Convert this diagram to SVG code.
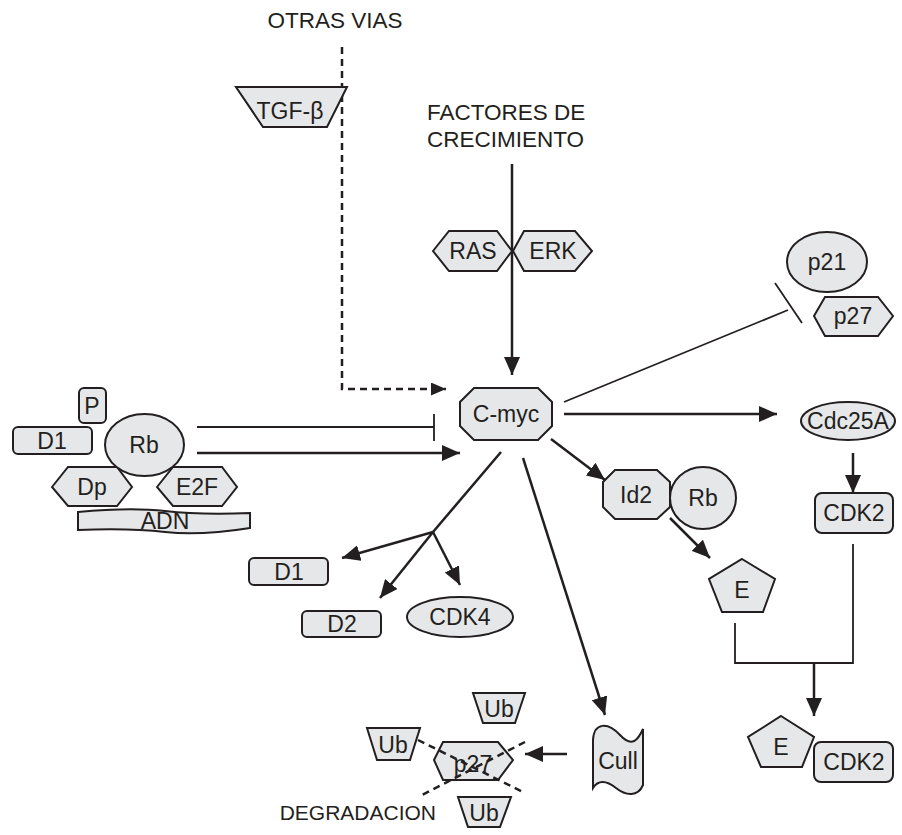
<svg xmlns="http://www.w3.org/2000/svg" width="902" height="835" viewBox="0 0 902 835">
<style>
.n{fill:#e6e7e8;stroke:#231f20;stroke-width:2}
.t{font-family:"Liberation Sans",Arial,sans-serif;font-size:23px;fill:#231f20;text-anchor:middle}
.lbl{font-family:"Liberation Sans",Arial,sans-serif;font-size:22.5px;fill:#231f20}
.c{fill:none;stroke:#231f20;stroke-width:2.5}
.thin{fill:none;stroke:#231f20;stroke-width:1.8}
.d{fill:none;stroke:#231f20;stroke-width:2.5;stroke-dasharray:7,5}
</style>
<defs>
<marker id="ah" viewBox="0 0 18 16" refX="18" refY="8" markerWidth="18" markerHeight="16" orient="auto" markerUnits="userSpaceOnUse"><path d="M0,0 L18,8 L0,16 Z" fill="#231f20"/></marker>
<marker id="ahs" viewBox="0 0 15 13" refX="15" refY="6.5" markerWidth="15" markerHeight="13" orient="auto" markerUnits="userSpaceOnUse"><path d="M0,0 L15,6.5 L0,13 Z" fill="#231f20"/></marker>
</defs>
<rect width="902" height="835" fill="#ffffff"/>

<g id="labels">
<text class="lbl" x="335" y="28" text-anchor="middle">OTRAS VIAS</text>
<text class="lbl" x="427" y="120">FACTORES DE</text>
<text class="lbl" x="427" y="147">CRECIMIENTO</text>
<text class="lbl" x="436" y="820" text-anchor="end" style="font-size:21px">DEGRADACION</text>
</g>

<g id="connectors">
<path class="d" d="M342,47 V389 H446" marker-end="url(#ahs)"/>
<path class="c" d="M512,164 V375" marker-end="url(#ah)"/>
<path class="thin" d="M197,427 H434 M434,414 V441"/>
<path class="c" d="M197,453 H460" marker-end="url(#ah)"/>
<path class="thin" d="M564,402 L788,310 M775,283 L802,323"/>
<path class="c" d="M564,414 H777" marker-end="url(#ah)"/>
<path class="c" d="M853,453 V493" marker-end="url(#ah)"/>
<path class="thin" d="M853,544 V663 H735 V623"/>
<path class="c" d="M814,663 V716" marker-end="url(#ah)"/>
<path class="c" d="M551,439 L605,480" marker-end="url(#ah)"/>
<path class="c" d="M670,518 L710,558" marker-end="url(#ah)"/>
<path class="c" d="M501,452 L433,532"/>
<path class="c" d="M433,532 L342,558" marker-end="url(#ah)"/>
<path class="c" d="M433,532 L380,598" marker-end="url(#ah)"/>
<path class="c" d="M433,532 L460,585" marker-end="url(#ah)"/>
<path class="c" d="M523,458 L605,715" marker-end="url(#ah)"/>
<path class="c" d="M567,754 H525" marker-end="url(#ah)"/>
</g>

<g id="tgfb">
<polygon class="n" points="236,87 347,87 327,127 263,127"/>
<text class="t" x="290" y="119">TGF-β</text>
</g>
<g id="ras">
<polygon class="n" points="433,251 449,231 497,231 512,251 497,271 449,271"/>
<text class="t" x="473" y="259">RAS</text>
</g>
<g id="erk">
<polygon class="n" points="513,251 524,231 575,231 592,251 575,271 524,271"/>
<text class="t" x="553" y="259">ERK</text>
</g>
<g id="cmyc">
<polygon class="n" points="474,388 538,388 552,402 552,426 538,440 474,440 460,426 460,402"/>
<text class="t" x="506" y="422">C-myc</text>
</g>
<g id="p21">
<ellipse class="n" cx="827" cy="262" rx="40" ry="30"/>
<text class="t" x="827" y="270">p21</text>
</g>
<g id="p27top">
<polygon class="n" points="814,316 825,297 878,297 893,316 878,336 825,336"/>
<text class="t" x="853" y="324">p27</text>
</g>
<g id="cdc25a">
<ellipse class="n" cx="848" cy="421" rx="47" ry="19"/>
<text class="t" x="848" y="429">Cdc25A</text>
</g>
<g id="cdk2a">
<rect class="n" x="815" y="493" width="78" height="40" rx="7"/>
<text class="t" x="854" y="521">CDK2</text>
</g>
<g id="rbcomplex">
<rect class="n" x="79" y="388" width="27" height="35" rx="5"/>
<text class="t" x="92" y="414">P</text>
<rect class="n" x="13" y="427" width="79" height="27" rx="5"/>
<text class="t" x="52" y="449">D1</text>
<polygon class="n" points="52,487 68,467 117,467 132,487 117,506 68,506"/>
<text class="t" x="92" y="495">Dp</text>
<polygon class="n" points="157,487 173,467 222,467 237,487 222,506 173,506"/>
<text class="t" x="197" y="495">E2F</text>
<ellipse class="n" cx="144.5" cy="445" rx="39.5" ry="31"/>
<text class="t" x="144" y="453">Rb</text>
<path class="n" d="M78,512 Q130,507 165,511 T250,513 L250,528 Q200,536 165,532 T78,530 Z"/>
<text class="t" x="165" y="529">ADN</text>
</g>
<g id="id2rb">
<polygon class="n" points="615,470 657,470 670,482 670,507 657,519 615,519 603,507 603,482"/>
<text class="t" x="636" y="503">Id2</text>
<ellipse class="n" cx="703" cy="498" rx="33" ry="31"/>
<text class="t" x="703" y="506">Rb</text>
</g>
<g id="e1">
<polygon class="n" points="742,559 775,579 763,612 722,612 709,579"/>
<text class="t" x="742" y="598">E</text>
</g>
<g id="d1">
<rect class="n" x="249" y="558" width="79" height="27" rx="5"/>
<text class="t" x="289" y="580">D1</text>
</g>
<g id="d2">
<rect class="n" x="302" y="611" width="79" height="26" rx="5"/>
<text class="t" x="342" y="632">D2</text>
</g>
<g id="cdk4">
<ellipse class="n" cx="460" cy="617" rx="53" ry="20"/>
<text class="t" x="460" y="625">CDK4</text>
</g>
<g id="cull">
<path class="n" d="M593,740 C594,722 608,722 620,735 S638,740 643,729 L643,785 C638,797 626,796 616,788 S598,780 593,788 Z"/>
<text class="t" x="618" y="769">Cull</text>
</g>
<g id="p27deg">
<polygon class="n" points="434,760 443,742 498,742 513,760 498,780 443,780"/>
<text class="t" x="473" y="772">p27</text>
</g>
<g id="ub1">
<polygon class="n" points="473,693 525,693 515,723 483,723"/>
<text class="t" x="499" y="717">Ub</text>
</g>
<g id="ub2">
<polygon class="n" points="367,728 420,728 410,760 377,760"/>
<text class="t" x="393" y="753">Ub</text>
</g>
<g id="ub3">
<polygon class="n" points="458,797 511,797 500,827 468,827"/>
<text class="t" x="484" y="821">Ub</text>
</g>
<g id="degx">
<path class="d" d="M418,740 L525,793 M525,742 L422,795"/>
</g>
<g id="ecdk2">
<polygon class="n" points="781,716 814,737 802,767 761,767 748,737"/>
<text class="t" x="781" y="755">E</text>
<rect class="n" x="814" y="742" width="79" height="40" rx="7"/>
<text class="t" x="854" y="770">CDK2</text>
</g>
</svg>
